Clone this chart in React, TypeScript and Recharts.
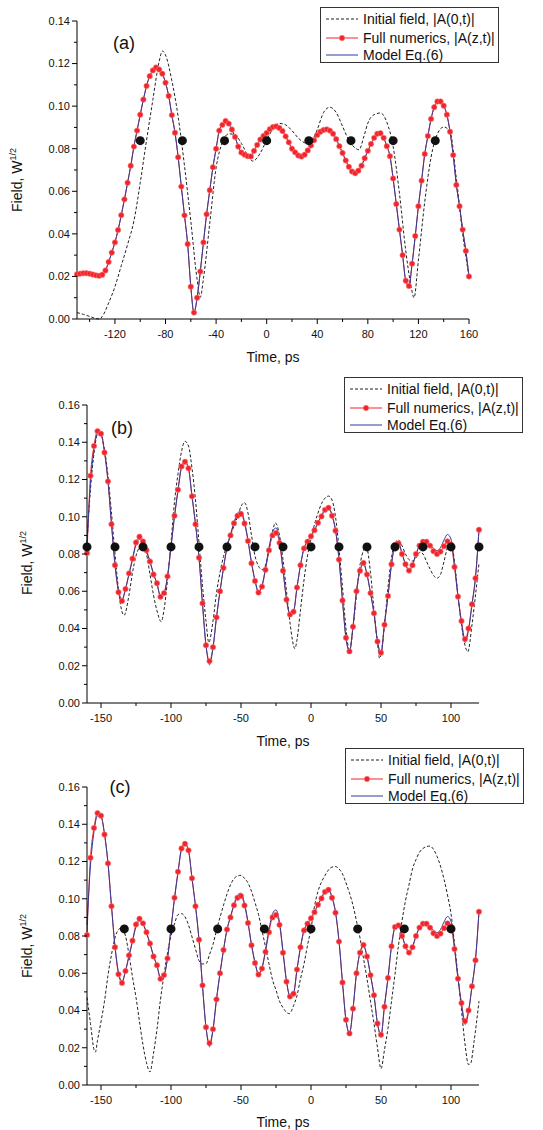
import React from 'react';
import { ComposedChart, Line, XAxis, YAxis } from 'recharts';

const FONT = '"Liberation Sans", Arial, Helvetica, sans-serif';

type Pt = [number, number];

// ---- panel (a) ----
const initA: Pt[] = [
  [-150, 0.003], [-145, 0.0022], [-140, 0.0012], [-135, 0.0002], [-132, 0.0], [-130, 0.0012],
  [-125, 0.0075], [-120, 0.0152], [-115, 0.025], [-110, 0.035], [-105, 0.046], [-100, 0.064],
  [-95, 0.084], [-90, 0.103], [-85, 0.121], [-82.5, 0.1259], [-80, 0.124], [-75, 0.112],
  [-70, 0.095], [-65, 0.072], [-60, 0.046], [-55, 0.0185], [-52.5, 0.0102], [-50, 0.019],
  [-45, 0.045], [-40, 0.071], [-35, 0.083], [-30, 0.087], [-25, 0.0865], [-20, 0.0825],
  [-15, 0.077], [-11, 0.0742], [-5, 0.078], [0, 0.0841], [5, 0.0893], [10, 0.0919],
  [15, 0.0912], [20, 0.0885], [25, 0.085], [30, 0.0828], [33, 0.0825], [37, 0.085],
  [40, 0.089], [45, 0.097], [50, 0.0995], [55, 0.097], [60, 0.0905], [65, 0.084],
  [70, 0.0803], [73, 0.0795], [77, 0.086], [80, 0.092], [85, 0.096], [90, 0.0968],
  [95, 0.0925], [100, 0.081], [105, 0.059], [110, 0.032], [114, 0.016], [116.5, 0.01],
  [120, 0.0277], [125, 0.055], [130, 0.076], [135, 0.087], [140, 0.0902], [145, 0.088],
  [150, 0.066], [155, 0.04], [160, 0.0199],
];

const fullA: Pt[] = [
  [-150, 0.021], [-147.5, 0.0213], [-145, 0.0215], [-142.5, 0.0215], [-140, 0.0213], [-137.5, 0.0209],
  [-135, 0.0205], [-132.5, 0.0203], [-130, 0.0208], [-127.5, 0.0228], [-125, 0.0268], [-122.5, 0.0312],
  [-120, 0.036], [-117.5, 0.0418], [-115, 0.0488], [-112.5, 0.0562], [-110, 0.064], [-107.5, 0.072],
  [-105, 0.081], [-102.5, 0.0885], [-100, 0.096], [-97.5, 0.1031], [-95, 0.1095], [-92.5, 0.1141],
  [-90, 0.1168], [-87.5, 0.1182], [-85, 0.1172], [-82.5, 0.1152], [-80, 0.111], [-77.5, 0.1048],
  [-75, 0.0958], [-72.5, 0.0875], [-70, 0.076], [-67.5, 0.0622], [-65, 0.0487], [-62.5, 0.0352],
  [-60, 0.0152], [-57.5, 0.003], [-55, 0.01], [-52.5, 0.0223], [-50, 0.036], [-47.5, 0.0492],
  [-45, 0.0605], [-42.5, 0.0713], [-40, 0.08], [-37.5, 0.0885], [-35, 0.0912], [-32.5, 0.093],
  [-30, 0.0918], [-27.5, 0.089], [-25, 0.0855], [-22.5, 0.081], [-20, 0.0782], [-17.5, 0.0772],
  [-15, 0.0765], [-12.5, 0.0764], [-10, 0.079], [-7.5, 0.0818], [-5, 0.0843], [-2.5, 0.086],
  [0, 0.0874], [2.5, 0.0892], [5, 0.0902], [7.5, 0.0905], [10, 0.0897], [12.5, 0.0883],
  [15, 0.0858], [17.5, 0.083], [20, 0.08], [22.5, 0.0783], [25, 0.0768], [27.5, 0.0763],
  [30, 0.0772], [32.5, 0.0792], [35, 0.0815], [37.5, 0.084], [40, 0.0865], [42.5, 0.088],
  [45, 0.0888], [47.5, 0.0891], [50, 0.0885], [52.5, 0.087], [55, 0.0845], [57.5, 0.0812],
  [60, 0.078], [62.5, 0.0745], [65, 0.0715], [67.5, 0.0693], [70, 0.0685], [72.5, 0.0697],
  [75, 0.072], [77.5, 0.0755], [80, 0.079], [82.5, 0.0822], [85, 0.0851], [87.5, 0.087],
  [90, 0.0873], [92.5, 0.0851], [95, 0.0812], [97.5, 0.0765], [100, 0.066], [102.5, 0.054],
  [105, 0.042], [107.5, 0.03], [110, 0.018], [112.5, 0.0155], [115, 0.026], [117.5, 0.039],
  [120, 0.053], [122.5, 0.065], [125, 0.0775], [127.5, 0.086], [130, 0.094], [132.5, 0.0995],
  [135, 0.1022], [137.5, 0.1022], [140, 0.1002], [142.5, 0.096], [145, 0.088], [147.5, 0.077],
  [150, 0.063], [152.5, 0.053], [155, 0.042], [157.5, 0.032], [160, 0.02],
];

// model Eq.(6) lies on top of the full numerics in (a)
const modelA: Pt[] = fullA;

const marksA: Pt[] = [
  [-100, 0.0838], [-66.67, 0.0838], [-33.33, 0.0838], [0, 0.0838],
  [33.33, 0.0838], [66.67, 0.0838], [100, 0.0838], [133.33, 0.0838],
];

// ---- panels (b) and (c): same output field, different input ----
const fullBC: Pt[] = [
  [-160, 0.0805], [-157.5, 0.122], [-155, 0.138], [-152.5, 0.146], [-150, 0.1446], [-147.5, 0.1345],
  [-145, 0.119], [-142.5, 0.096], [-140, 0.074], [-137.5, 0.0595], [-135, 0.0548], [-132.5, 0.0612],
  [-130, 0.0696], [-127.5, 0.0775], [-125, 0.0862], [-122.5, 0.0893], [-120, 0.0868], [-117.5, 0.082],
  [-115, 0.076], [-112.5, 0.069], [-110, 0.0643], [-107.5, 0.057], [-105, 0.059], [-102.5, 0.068],
  [-100, 0.0839], [-97.5, 0.1005], [-95, 0.1145], [-92.5, 0.127], [-90, 0.1295], [-87.5, 0.126],
  [-85, 0.111], [-82.5, 0.096], [-80, 0.078], [-77.5, 0.0535], [-75, 0.031], [-72.5, 0.0225],
  [-70, 0.03], [-67.5, 0.046], [-65, 0.06], [-62.5, 0.0725], [-60, 0.0835], [-57.5, 0.09],
  [-55, 0.0965], [-52.5, 0.1005], [-50, 0.1015], [-47.5, 0.0964], [-45, 0.087], [-42.5, 0.075],
  [-40, 0.0655], [-37.5, 0.0593], [-35, 0.0625], [-32.5, 0.0715], [-30, 0.082], [-27.5, 0.09],
  [-25, 0.0913], [-22.5, 0.086], [-20, 0.071], [-17.5, 0.0555], [-15, 0.0475], [-12.5, 0.049],
  [-10, 0.062], [-7.5, 0.074], [-5, 0.083], [-2.5, 0.0866], [0, 0.0895], [2.5, 0.0928],
  [5, 0.0968], [7.5, 0.1002], [10, 0.1037], [12.5, 0.1048], [15, 0.1005], [17.5, 0.0925],
  [20, 0.077], [22.5, 0.055], [25, 0.035], [27.5, 0.0277], [30, 0.041], [32.5, 0.06],
  [35, 0.071], [37.5, 0.0752], [40, 0.069], [42.5, 0.059], [45, 0.0482], [47.5, 0.033],
  [50, 0.027], [52.5, 0.042], [55, 0.0575], [57.5, 0.0745], [60, 0.0848], [62.5, 0.0857],
  [65, 0.08], [67.5, 0.0745], [70, 0.0711], [72.5, 0.074], [75, 0.08], [77.5, 0.0845],
  [80, 0.0866], [82.5, 0.0866], [85, 0.0845], [87.5, 0.0815], [90, 0.08], [92.5, 0.0813],
  [95, 0.0842], [97.5, 0.0868], [100, 0.085], [102.5, 0.073], [105, 0.0571], [107.5, 0.044],
  [110, 0.0343], [112.5, 0.04], [115, 0.053], [117.5, 0.067], [120, 0.093],
];

const modelBC: Pt[] = [
  [-160, 0.086], [-157.5, 0.118], [-155, 0.136], [-152.5, 0.1445], [-150, 0.144], [-147.5, 0.135],
  [-145, 0.119], [-142.5, 0.096], [-140, 0.0745], [-137.5, 0.0605], [-135, 0.0558], [-132.5, 0.0612],
  [-130, 0.069], [-127.5, 0.077], [-125, 0.085], [-122.5, 0.0878], [-120, 0.0862], [-117.5, 0.0815],
  [-115, 0.0758], [-112.5, 0.0695], [-110, 0.0638], [-107.5, 0.0578], [-105, 0.059], [-102.5, 0.068],
  [-100, 0.0839], [-97.5, 0.1], [-95, 0.114], [-92.5, 0.1262], [-90, 0.1292], [-87.5, 0.1258],
  [-85, 0.111], [-82.5, 0.096], [-80, 0.078], [-77.5, 0.053], [-75, 0.031], [-72.5, 0.0205],
  [-70, 0.0295], [-67.5, 0.046], [-65, 0.06], [-62.5, 0.0725], [-60, 0.0835], [-57.5, 0.0905],
  [-55, 0.097], [-52.5, 0.102], [-50, 0.103], [-47.5, 0.0975], [-45, 0.0875], [-42.5, 0.0755],
  [-40, 0.066], [-37.5, 0.0598], [-35, 0.063], [-32.5, 0.0725], [-30, 0.0835], [-27.5, 0.092],
  [-25, 0.094], [-22.5, 0.0875], [-20, 0.072], [-17.5, 0.056], [-15, 0.0478], [-12.5, 0.049],
  [-10, 0.062], [-7.5, 0.074], [-5, 0.083], [-2.5, 0.087], [0, 0.0895], [2.5, 0.0928],
  [5, 0.0968], [7.5, 0.1005], [10, 0.104], [12.5, 0.105], [15, 0.101], [17.5, 0.093],
  [20, 0.0775], [22.5, 0.055], [25, 0.0345], [27.5, 0.028], [30, 0.041], [32.5, 0.06],
  [35, 0.0712], [37.5, 0.0745], [40, 0.069], [42.5, 0.059], [45, 0.048], [47.5, 0.033],
  [50, 0.0262], [52.5, 0.043], [55, 0.0575], [57.5, 0.0745], [60, 0.0845], [62.5, 0.086],
  [65, 0.0805], [67.5, 0.0745], [70, 0.0715], [72.5, 0.0742], [75, 0.08], [77.5, 0.0845],
  [80, 0.0868], [82.5, 0.0868], [85, 0.085], [87.5, 0.083], [90, 0.0818], [92.5, 0.0835],
  [95, 0.0875], [97.5, 0.0905], [100, 0.088], [102.5, 0.074], [105, 0.0571], [107.5, 0.043],
  [110, 0.0325], [112.5, 0.039], [115, 0.053], [117.5, 0.068], [120, 0.093],
];

const initB: Pt[] = [
  [-160, 0.086], [-157.5, 0.115], [-155, 0.134], [-152.5, 0.144], [-150, 0.144], [-147.5, 0.136],
  [-145, 0.122], [-142.5, 0.102], [-140, 0.08], [-137.5, 0.061], [-135, 0.049], [-133.5, 0.0471],
  [-130, 0.058], [-127.5, 0.07], [-125, 0.079], [-122.5, 0.0835], [-120, 0.0845], [-117.5, 0.08],
  [-115, 0.069], [-112.5, 0.058], [-110, 0.0495], [-107, 0.0437], [-105, 0.05], [-102.5, 0.066],
  [-100, 0.086], [-97.5, 0.108], [-95, 0.123], [-92.5, 0.135], [-90, 0.1405], [-87.5, 0.138],
  [-85, 0.126], [-82.5, 0.109], [-80, 0.086], [-77.5, 0.063], [-75, 0.044], [-73, 0.0325],
  [-70, 0.044], [-67.5, 0.059], [-65, 0.07], [-62.5, 0.0786], [-60, 0.085], [-57.5, 0.09],
  [-55, 0.095], [-52.5, 0.1], [-50, 0.1055], [-47.5, 0.1076], [-45, 0.102], [-42.5, 0.09],
  [-40, 0.079], [-37.5, 0.0735], [-35, 0.0716], [-32.5, 0.074], [-30, 0.082], [-27.5, 0.092],
  [-25.5, 0.0967], [-22.5, 0.09], [-20, 0.077], [-17.5, 0.06], [-15, 0.043], [-11.5, 0.0292],
  [-10, 0.034], [-7.5, 0.05], [-5, 0.066], [-2.5, 0.079], [0, 0.088], [2.5, 0.096],
  [5, 0.102], [7.5, 0.107], [10, 0.11], [12.5, 0.1111], [15, 0.109], [17.5, 0.1],
  [20, 0.083], [22.5, 0.062], [25, 0.04], [27.5, 0.028], [30, 0.04], [32.5, 0.058],
  [35, 0.074], [37.5, 0.082], [39.5, 0.084], [42.5, 0.07], [45, 0.05], [47.5, 0.032],
  [49, 0.024], [52.5, 0.042], [55, 0.062], [57.5, 0.078], [60, 0.086], [62.5, 0.0875],
  [65, 0.0845], [67.5, 0.08], [70, 0.077], [72.5, 0.0762], [75, 0.078], [78, 0.081],
  [80, 0.08], [82.5, 0.076], [85, 0.072], [87.5, 0.0685], [90, 0.067], [92.5, 0.069],
  [95, 0.076], [97.5, 0.0835], [100, 0.086], [102.5, 0.076], [105, 0.058], [107.5, 0.042],
  [110, 0.031], [112, 0.0275], [115, 0.042], [117.5, 0.058], [120, 0.075],
];

const initC: Pt[] = [
  [-160, 0.047], [-157.5, 0.033], [-155, 0.019], [-154, 0.0177], [-152.5, 0.024], [-150, 0.034],
  [-147.5, 0.045], [-145, 0.059], [-142.5, 0.07], [-140, 0.079], [-137.5, 0.0835], [-135.5, 0.0843],
  [-132.5, 0.08], [-130, 0.07], [-127.5, 0.058], [-125, 0.047], [-122.5, 0.034], [-120, 0.0215],
  [-117.5, 0.012], [-115, 0.007], [-112.5, 0.017], [-110, 0.03], [-107.5, 0.046], [-105, 0.059],
  [-102.5, 0.071], [-100, 0.08], [-97.5, 0.0865], [-95, 0.0915], [-92.5, 0.092], [-90, 0.0903],
  [-87.5, 0.086], [-85, 0.0795], [-82.5, 0.073], [-80, 0.0668], [-77.5, 0.065], [-75, 0.0652],
  [-72.5, 0.07], [-70, 0.0755], [-67.5, 0.083], [-65, 0.09], [-62.5, 0.0965], [-60, 0.1025],
  [-57.5, 0.1075], [-55, 0.1108], [-52.5, 0.1122], [-50, 0.1126], [-47.5, 0.111], [-45, 0.1085],
  [-42.5, 0.104], [-40, 0.098], [-37.5, 0.0915], [-35, 0.083], [-32.5, 0.0741], [-30, 0.065],
  [-27.5, 0.0565], [-25, 0.051], [-22.5, 0.045], [-20, 0.0415], [-17.5, 0.039], [-15.5, 0.0383],
  [-12.5, 0.0425], [-10, 0.048], [-7.5, 0.057], [-5, 0.065], [-2.5, 0.075], [0, 0.084],
  [2.5, 0.096], [5, 0.104], [7.5, 0.109], [10, 0.1125], [12.5, 0.1155], [15, 0.117],
  [17.5, 0.1173], [20, 0.116], [22.5, 0.1133], [25, 0.1085], [27.5, 0.103], [30, 0.0965],
  [32.5, 0.088], [35, 0.079], [37.5, 0.068], [40, 0.057], [42.5, 0.045], [45, 0.033],
  [47.5, 0.02], [50, 0.0088], [52.5, 0.019], [55, 0.0305], [57.5, 0.045], [60, 0.0595],
  [62.5, 0.075], [65, 0.088], [67.5, 0.099], [70, 0.1075], [72.5, 0.116], [75, 0.121],
  [77.5, 0.125], [80, 0.127], [82.5, 0.128], [85, 0.1283], [87.5, 0.1265], [90, 0.1228],
  [92.5, 0.1175], [95, 0.1105], [97.5, 0.102], [100, 0.092], [102.5, 0.076], [105, 0.0585],
  [107.5, 0.04], [110, 0.022], [112.5, 0.011], [114, 0.0115], [116.5, 0.0235], [120, 0.045],
];

const marksB: Pt[] = [
  [-160, 0.0838], [-140, 0.0838], [-120, 0.0838], [-100, 0.0838], [-80, 0.0838],
  [-60, 0.0838], [-40, 0.0838], [-20, 0.0838], [0, 0.0838], [20, 0.0838],
  [40, 0.0838], [60, 0.0838], [80, 0.0838], [100, 0.0838], [120, 0.0838],
];

const marksC: Pt[] = [
  [-133.33, 0.0838], [-100, 0.0838], [-66.67, 0.0838], [-33.33, 0.0838],
  [0, 0.0838], [33.33, 0.0838], [66.67, 0.0838], [100, 0.0838],
];

// ---- ticks ----
const xTicksA = [-140, -120, -100, -80, -60, -40, -20, 0, 20, 40, 60, 80, 100, 120, 140, 160];
const xMajorA = [-120, -80, -40, 0, 40, 80, 120, 160];
const xTicksBC = [-150, -125, -100, -75, -50, -25, 0, 25, 50, 75, 100];
const xMajorBC = [-150, -100, -50, 0, 50, 100];
const yTicksA = [0, 0.01, 0.02, 0.03, 0.04, 0.05, 0.06, 0.07, 0.08, 0.09, 0.1, 0.11, 0.12, 0.13, 0.14];
const yTicksBC = [...yTicksA, 0.15, 0.16];

const legendLabels = ['Initial field, |A(0,t)|', 'Full numerics, |A(z,t)|', 'Model Eq.(6)'];

const RED = '#f0242b';
const BLUE = '#2b3f9e';
const DOT_R = 2.7;

const toPts = (arr: Pt[]) => arr.map(([t, v]) => ({ t, v }));

function XTick(props: any) {
  const { x, y, payload, majors } = props;
  const major = majors.includes(payload.value);
  return (
    <g>
      <line x1={x} x2={x} y1={y} y2={y + (major ? 5 : 3)} stroke="#000" strokeWidth={1} />
      {major && (
        <text x={x} y={y + 15} dy="0.35em" textAnchor="middle" fontSize={11} fontFamily={FONT} fill="#111">
          {payload.value}
        </text>
      )}
    </g>
  );
}

function YTick(props: any) {
  const { x, y, payload } = props;
  const major = Math.round(payload.value * 100) % 2 === 0;
  return (
    <g>
      <line x1={x} x2={x - (major ? 5 : 3)} y1={y} y2={y} stroke="#000" strokeWidth={1} />
      {major && (
        <text x={x - 7} y={y} dy="0.35em" textAnchor="end" fontSize={11} fontFamily={FONT} fill="#111">
          {payload.value.toFixed(2)}
        </text>
      )}
    </g>
  );
}

interface PanelProps {
  top: number;
  height: number;
  marginTop: number;
  marginRight: number;
  yAxisW: number;
  xAxisH: number;
  xDomain: [number, number];
  xTicks: number[];
  xMajor: number[];
  yDomain: [number, number];
  yTicks: number[];
  init: Pt[];
  full: Pt[];
  model: Pt[];
  marks: Pt[];
}

function Panel(p: PanelProps) {
  return (
    <div style={{ position: 'absolute', left: 0, top: p.top }}>
      <ComposedChart
        width={543}
        height={p.height}
        margin={{ top: p.marginTop, right: p.marginRight, left: 0, bottom: 0 }}
      >
        <XAxis
          type="number"
          dataKey="t"
          domain={p.xDomain}
          ticks={p.xTicks}
          interval={0}
          height={p.xAxisH}
          tickLine={false}
          tickSize={0}
          tickMargin={0}
          axisLine={{ stroke: '#000', strokeWidth: 1 }}
          tick={(tp: any) => <XTick {...tp} majors={p.xMajor} />}
        />
        <YAxis
          type="number"
          dataKey="v"
          domain={p.yDomain}
          ticks={p.yTicks}
          interval={0}
          width={p.yAxisW}
          tickLine={false}
          tickSize={0}
          tickMargin={0}
          axisLine={{ stroke: '#000', strokeWidth: 1 }}
          tick={(tp: any) => <YTick {...tp} />}
        />
        <Line
          data={toPts(p.init)}
          dataKey="v"
          type="monotone"
          stroke="#222"
          strokeWidth={1}
          strokeDasharray="3 2"
          dot={false}
          activeDot={false}
          isAnimationActive={false}
        />
        <Line
          data={toPts(p.full)}
          dataKey="v"
          type="monotone"
          stroke={RED}
          strokeWidth={1}
          dot={{ r: DOT_R, fill: RED, stroke: '#f77', strokeWidth: 0.6 }}
          activeDot={false}
          isAnimationActive={false}
        />
        <Line
          data={toPts(p.model)}
          dataKey="v"
          type="monotone"
          stroke={BLUE}
          strokeWidth={1}
          dot={false}
          activeDot={false}
          isAnimationActive={false}
        />
        <Line
          data={toPts(p.marks)}
          dataKey="v"
          stroke="none"
          dot={{ r: 4.5, fill: '#111', stroke: 'none' }}
          activeDot={false}
          isAnimationActive={false}
        />
      </ComposedChart>
    </div>
  );
}

function LegendBox({ left, top }: { left: number; top: number }) {
  const rows = [11, 30, 47];
  return (
    <div
      style={{
        position: 'absolute',
        left,
        top,
        width: 177,
        height: 54,
        border: '1px solid #333',
        background: '#fff',
        fontFamily: FONT,
        fontSize: 14,
        color: '#111',
      }}
    >
      {legendLabels.map((label, i) => (
        <div key={label} style={{ position: 'absolute', left: 0, top: rows[i] - 9, height: 18, lineHeight: '18px', whiteSpace: 'nowrap' }}>
          <svg width={40} height={18} style={{ position: 'absolute', left: 5, top: 0 }}>
            {i === 0 && <line x1={0} x2={32} y1={9} y2={9} stroke="#222" strokeDasharray="3 2" />}
            {i === 1 && (
              <g>
                <line x1={0} x2={32} y1={9} y2={9} stroke={RED} />
                <circle cx={16} cy={9} r={DOT_R} fill={RED} stroke="#f77" strokeWidth={0.6} />
              </g>
            )}
            {i === 2 && <line x1={0} x2={32} y1={9} y2={9} stroke={BLUE} />}
          </svg>
          <span style={{ position: 'absolute', left: 42 }}>{label}</span>
        </div>
      ))}
    </div>
  );
}

function XTitle({ cx, cy }: { cx: number; cy: number }) {
  return (
    <div style={{ position: 'absolute', left: cx, top: cy, transform: 'translate(-50%, -50%)', fontFamily: FONT, fontSize: 14, color: '#111', whiteSpace: 'nowrap' }}>
      Time, ps
    </div>
  );
}

function YTitle({ cx, cy }: { cx: number; cy: number }) {
  return (
    <div
      style={{
        position: 'absolute',
        left: cx,
        top: cy,
        transform: 'translate(-50%, -50%) rotate(-90deg)',
        fontFamily: FONT,
        fontSize: 14,
        lineHeight: '16px',
        color: '#111',
        whiteSpace: 'nowrap',
      }}
    >
      Field, W<span style={{ fontSize: 9, position: 'relative', top: -6 }}>1/2</span>
    </div>
  );
}

function PanelTag({ text, cx, cy }: { text: string; cx: number; cy: number }) {
  return (
    <div style={{ position: 'absolute', left: cx, top: cy, transform: 'translate(-50%, -50%)', fontFamily: FONT, fontSize: 18, color: '#111' }}>
      {text}
    </div>
  );
}

export default function App() {
  return (
    <div style={{ position: 'absolute', left: 0, top: 0, width: 543, height: 1130, background: '#fff', overflow: 'hidden' }}>
      <Panel
        top={0}
        height={370}
        marginTop={21}
        marginRight={74}
        yAxisW={77}
        xAxisH={51}
        xDomain={[-150, 160]}
        xTicks={xTicksA}
        xMajor={xMajorA}
        yDomain={[0, 0.14]}
        yTicks={yTicksA}
        init={initA}
        full={fullA}
        model={modelA}
        marks={marksA}
      />
      <Panel
        top={380}
        height={370}
        marginTop={25}
        marginRight={64}
        yAxisW={87}
        xAxisH={47}
        xDomain={[-160, 120]}
        xTicks={xTicksBC}
        xMajor={xMajorBC}
        yDomain={[0, 0.16]}
        yTicks={yTicksBC}
        init={initB}
        full={fullBC}
        model={modelBC}
        marks={marksB}
      />
      <Panel
        top={760}
        height={370}
        marginTop={27}
        marginRight={64}
        yAxisW={87}
        xAxisH={45}
        xDomain={[-160, 120]}
        xTicks={xTicksBC}
        xMajor={xMajorBC}
        yDomain={[0, 0.16]}
        yTicks={yTicksBC}
        init={initC}
        full={fullBC}
        model={modelBC}
        marks={marksC}
      />
      <LegendBox left={320} top={7} />
      <LegendBox left={344} top={377} />
      <LegendBox left={345} top={748} />
      <XTitle cx={273} cy={357} />
      <XTitle cx={283} cy={741} />
      <XTitle cx={283} cy={1122} />
      <YTitle cx={18} cy={180} />
      <YTitle cx={28} cy={563} />
      <YTitle cx={28} cy={946} />
      <PanelTag text="(a)" cx={124} cy={43} />
      <PanelTag text="(b)" cx={122} cy={428} />
      <PanelTag text="(c)" cx={120} cy={787} />
    </div>
  );
}
